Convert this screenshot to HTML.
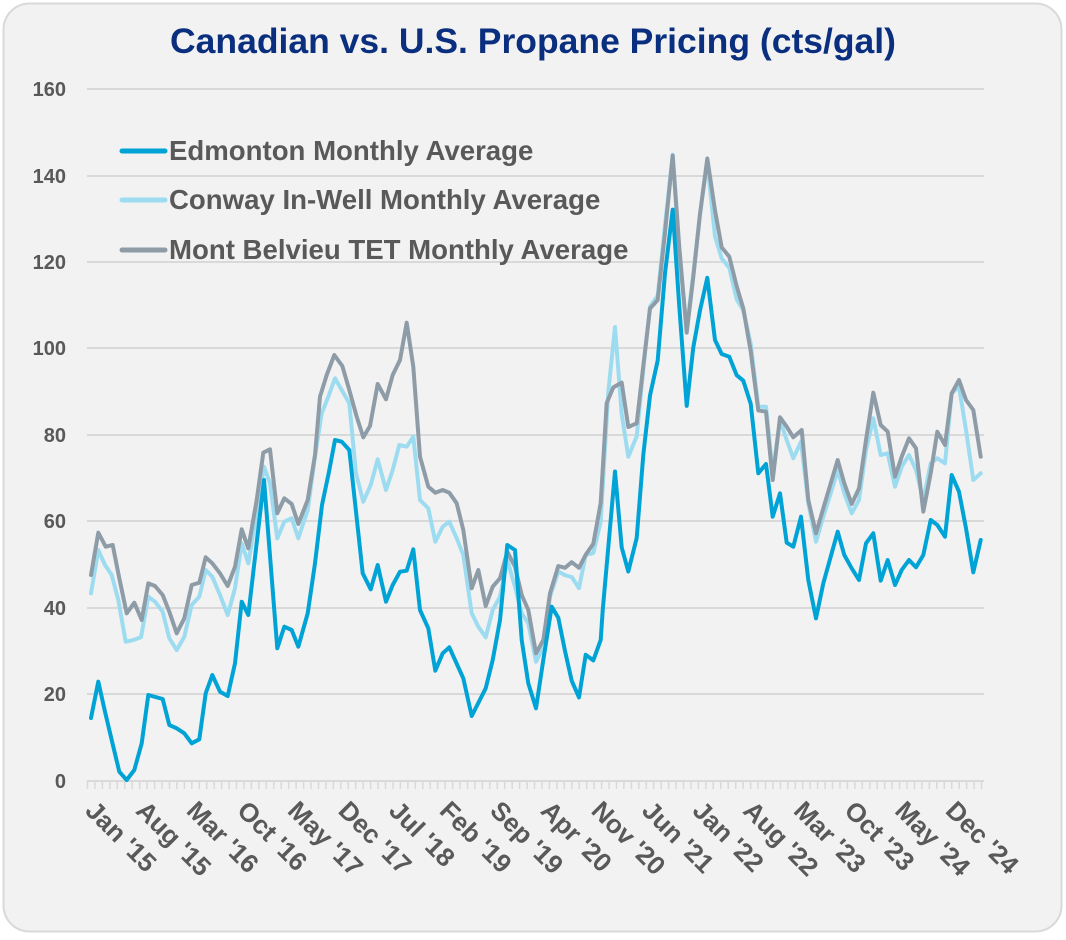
<!DOCTYPE html>
<html><head><meta charset="utf-8"><style>
html,body{margin:0;padding:0;background:#fff;}
body{width:1066px;height:935px;overflow:hidden;}
</style></head><body>
<svg width="1066" height="935" viewBox="0 0 1066 935" xmlns="http://www.w3.org/2000/svg" font-family="'Liberation Sans', sans-serif">
<rect x="3.5" y="3.5" width="1058" height="928" rx="26" fill="#f2f2f2" stroke="#d9d9d9" stroke-width="2"/>
<text x="533" y="53" text-anchor="middle" font-size="35.5" font-weight="bold" fill="#0b2f7f">Canadian vs. U.S. Propane Pricing (cts/gal)</text>
<g stroke="#d9d9d9" stroke-width="2">
<line x1="87" y1="89" x2="984" y2="89"/><line x1="87" y1="176" x2="984" y2="176"/><line x1="87" y1="262" x2="984" y2="262"/>
<line x1="87" y1="348" x2="984" y2="348"/><line x1="87" y1="435" x2="984" y2="435"/><line x1="87" y1="521" x2="984" y2="521"/>
<line x1="87" y1="608" x2="984" y2="608"/><line x1="87" y1="694" x2="984" y2="694"/><line x1="87" y1="781" x2="984" y2="781"/>
</g>
<path d="M87.5 781v8 M95 781v8 M102.4 781v8 M109.9 781v8 M117.3 781v8 M124.8 781v8 M132.2 781v8 M139.7 781v8 M147.1 781v8 M154.6 781v8 M162 781v8 M169.5 781v8 M176.9 781v8 M184.4 781v8 M191.8 781v8 M199.3 781v8 M206.7 781v8 M214.2 781v8 M221.6 781v8 M229.1 781v8 M236.5 781v8 M244 781v8 M251.4 781v8 M258.9 781v8 M266.3 781v8 M273.8 781v8 M281.2 781v8 M288.7 781v8 M296.1 781v8 M303.6 781v8 M311 781v8 M318.5 781v8 M325.9 781v8 M333.4 781v8 M340.8 781v8 M348.3 781v8 M355.7 781v8 M363.2 781v8 M370.6 781v8 M378.1 781v8 M385.5 781v8 M393 781v8 M400.4 781v8 M407.9 781v8 M415.3 781v8 M422.8 781v8 M430.2 781v8 M437.7 781v8 M445.1 781v8 M452.6 781v8 M460 781v8 M467.5 781v8 M474.9 781v8 M482.4 781v8 M489.8 781v8 M497.3 781v8 M504.7 781v8 M512.2 781v8 M519.6 781v8 M527.1 781v8 M534.5 781v8 M542 781v8 M549.4 781v8 M556.9 781v8 M564.3 781v8 M571.8 781v8 M579.2 781v8 M586.7 781v8 M594.1 781v8 M601.6 781v8 M609 781v8 M616.5 781v8 M623.9 781v8 M631.4 781v8 M638.8 781v8 M646.3 781v8 M653.7 781v8 M661.2 781v8 M668.6 781v8 M676.1 781v8 M683.5 781v8 M691 781v8 M698.4 781v8 M705.9 781v8 M713.3 781v8 M720.8 781v8 M728.2 781v8 M735.7 781v8 M743.1 781v8 M750.6 781v8 M758 781v8 M765.5 781v8 M772.9 781v8 M780.4 781v8 M787.8 781v8 M795.3 781v8 M802.7 781v8 M810.2 781v8 M817.6 781v8 M825.1 781v8 M832.5 781v8 M840 781v8 M847.4 781v8 M854.9 781v8 M862.3 781v8 M869.8 781v8 M877.2 781v8 M884.7 781v8 M892.1 781v8 M899.6 781v8 M907 781v8 M914.5 781v8 M921.9 781v8 M929.4 781v8 M936.8 781v8 M944.3 781v8 M951.7 781v8 M959.2 781v8 M966.6 781v8 M974.1 781v8 M981.5 781v8" stroke="#d9d9d9" stroke-width="1.5" fill="none"/>
<g font-size="20" fill="#595959" text-anchor="end" font-weight="bold">
<text x="66" y="96">160</text><text x="66" y="183">140</text><text x="66" y="269">120</text><text x="66" y="355">100</text>
<text x="66" y="442">80</text><text x="66" y="528">60</text><text x="66" y="615">40</text><text x="66" y="701">20</text><text x="66" y="788">0</text>
</g>
<g fill="none" stroke-width="4" stroke-linejoin="round" stroke-linecap="round">
<polyline stroke="#9ddcf0" points="91,593.3 98.3,550 105,565 111.7,575 118.3,600 125.7,641.7 133.3,640 141,637.3 148.3,596.7 155,601.7 162.7,611.7 169.3,638.3 176.7,650 184.3,636.7 191.7,605 199.3,596.7 205.7,570 212.3,576.7 220,595 227.7,615 235,588.3 241.7,543.3 248.3,563.3 256.7,513.3 264,466.7 270,483.3 277.3,538.3 284.3,521.7 291.7,518.3 298.3,538.3 307.7,510 315,456.7 321.7,413.3 328.3,396.7 335,378.3 341.7,390 349.3,403.3 356,473.3 363.3,501.7 370.7,485 377.7,459.3 386,490 392.7,470 399.3,445 406.7,446.7 413.3,436.7 420,500 428.3,508.3 435.3,541.7 442.7,526.7 449.3,521.7 456.7,538.3 463.3,555 471.7,613.3 478.3,626.7 485.7,637.3 492.7,610 500,596.7 507.3,560 515,586.7 521.7,613.3 528.3,623.3 536,661.7 543.3,646.7 550,596.7 558.3,571.5 565,575.2 571.7,577 579,588.1 585.7,554.8 593.3,553 600.7,521.5 608.3,391.9 615,327 621.7,414 628.3,456.7 636.7,436.3 643.3,369.6 650,306.7 657.7,295.6 665,225.2 672.7,154.8 679.3,254.8 686.7,328.9 693.3,273.3 700,214 707.3,162.2 715,236.3 721.7,258.5 729.3,267.8 736.7,299.3 743.3,310.4 750.7,343.7 758.3,406.7 766,406.7 772.7,473.3 780,420 786.7,440 793.3,458.3 801,441.7 808.3,503.3 816,541.7 823.3,516.7 830.7,493.3 837.7,470 844.3,493.3 851.7,513.3 859,500 866,450 873.3,418.3 880.7,455 887.7,453.3 895,486.7 901.7,466.7 909,455 916,470 923.3,500 930.7,463.3 937.3,458.3 945,463.3 951.7,393.3 959,386.7 966,430 973.3,480 980.7,473.3"/>
<polyline stroke="#8e9ca8" points="91,575 98.3,532.7 105.7,546.7 112.7,545 119.3,578.3 126.7,613.3 134.3,602.7 141.7,620 148.3,583.3 155,586 162.7,595 169.3,611.7 176.7,633.3 184.3,618.3 191.7,585 199.3,582.7 205.7,557.3 212.3,563.3 220,573.3 227.7,586 235,566.7 241.7,529.3 248.3,548.3 256.7,500 263.3,452.7 270,449.3 277.3,513.3 284.3,498.3 291.7,504 298.3,524 307.7,500 315,455 320,396.7 326.7,375 334.3,355 342.3,366 349.3,390 356.7,416.7 363.3,437.3 370,426 377.7,384 386,399.3 392.7,375 400,360 406.7,322.7 413.3,366.7 420,456.7 428.3,486.7 435.3,492.7 442.7,490 449.3,492.7 456.7,503.3 463.3,530 471.7,588.3 478.3,570 485.7,606 492.7,586.7 500,578.3 507.3,551.7 515,566.7 521.7,595 528.3,610 536,653.3 543.3,640 550,593.3 558.3,566 565,567.8 571.7,562.2 579,567.8 585.7,554.8 593.3,543.7 600.7,503 606.7,403 613.3,387.4 621.7,382.6 628.3,427 636.7,423.3 643.3,365.9 650,308.5 657.7,300 665,232.6 672.7,155.6 679.3,247.4 686.7,332.6 693.3,277 700,214 707.3,158.5 715,210.4 721.7,247.4 729.3,256.7 736.7,286.3 743.3,308.5 750.7,351.1 758.3,410.4 766,411.7 772.7,480 780,417.3 786.7,426.7 793.3,437.3 801.7,430 808.3,500 816,533.3 823.3,508.3 830.7,483.3 837.7,460 844.3,483.3 851.7,504 859,488.3 866,440 873.3,392.7 880.7,425 887.7,431.7 895,476.7 901.7,456.7 909,438.3 916,448.3 923.3,511.7 930.7,473.3 937.3,431.7 945,445 951.7,393.3 959,380 966,400 973.3,410 980.7,456.7"/>
<polyline stroke="#00a3d6" points="91,718 98.3,681.7 105,711.7 111.7,740 119.3,771.7 126.7,780 134.3,770 141.7,743.3 148.3,695 162.7,699 169.3,725 176.7,728.3 184.3,733.3 191.7,743.3 199.3,739.3 205.7,693.3 212.3,675 220,691.7 227.7,696 235,663.3 241.7,601.7 248.3,615 264,480 277.3,648.3 284.3,626.7 291.7,630 298.3,646.7 307.7,613.3 315,563.3 322,505 329,471.7 335,440 341.7,441.7 349.3,450 362.7,573.3 370.7,589.3 377.7,565 386,601.7 392.7,585 400,571.7 406.7,570.7 413.3,549.3 420,610 428.3,628.3 435.3,670.7 442.7,653.3 449.3,647.3 463.3,678.3 471.7,716 485.7,688.3 492.7,660 500,620 507.3,545 515,550 521.7,640 528.3,683.3 536,708.3 543.3,660 551.7,606.7 558.3,617.8 565,651 571.7,680.7 579,697.4 585.7,654.8 593.3,660.4 600.7,640 602.7,610.4 615,471.5 621.7,547.4 628.3,571.5 636.7,538 643.3,454.8 650,395.6 657.7,360.4 665,273.3 672.7,209.6 679.3,306.7 686.7,405.9 693.3,347.4 700,310.4 707.3,277.8 715,340 721.7,354 729.3,356.7 736.7,375.2 743.3,380.7 750.7,403.7 758.3,473.3 766,464 772.7,516.7 780,493.3 786.7,542.7 793.3,546.7 801,516.7 808.3,580 816,618.3 823.3,583.3 830.7,556.7 837.7,531.7 844.3,555 851.7,568.3 859,580 866,543.3 873.3,533.3 880.7,580.7 887.7,560 895,585 901.7,570 909,560 916,567.3 923.3,555 930.7,520 937.3,525 945,536.7 951.7,475 959,491.7 966,528.3 973.3,572.3 980.7,540"/>
</g>
<g stroke-width="5" stroke-linecap="round">
<line x1="122" y1="151" x2="165" y2="151" stroke="#00a3d6"/>
<line x1="122" y1="200" x2="165" y2="200" stroke="#9ddcf0"/>
<line x1="122" y1="250" x2="165" y2="250" stroke="#8e9ca8"/>
</g>
<g font-size="27.6" fill="#595959" font-weight="bold">
<text x="169" y="160">Edmonton Monthly Average</text>
<text x="169" y="209">Conway In-Well Monthly Average</text>
<text x="169" y="259">Mont Belvieu TET Monthly Average</text>
</g>
<g font-size="26" fill="#595959" font-weight="bold">
<text transform="translate(84,812) rotate(45)">Jan '15</text>
<text transform="translate(134.6,812) rotate(45)">Aug '15</text>
<text transform="translate(185.2,812) rotate(45)">Mar '16</text>
<text transform="translate(235.8,812) rotate(45)">Oct '16</text>
<text transform="translate(286.4,812) rotate(45)">May '17</text>
<text transform="translate(337,812) rotate(45)">Dec '17</text>
<text transform="translate(387.6,812) rotate(45)">Jul '18</text>
<text transform="translate(438.2,812) rotate(45)">Feb '19</text>
<text transform="translate(488.8,812) rotate(45)">Sep '19</text>
<text transform="translate(539.4,812) rotate(45)">Apr '20</text>
<text transform="translate(590,812) rotate(45)">Nov '20</text>
<text transform="translate(640.6,812) rotate(45)">Jun '21</text>
<text transform="translate(691.2,812) rotate(45)">Jan '22</text>
<text transform="translate(741.8,812) rotate(45)">Aug '22</text>
<text transform="translate(792.4,812) rotate(45)">Mar '23</text>
<text transform="translate(843,812) rotate(45)">Oct '23</text>
<text transform="translate(893.6,812) rotate(45)">May '24</text>
<text transform="translate(944.2,812) rotate(45)">Dec '24</text>
</g>
</svg>
</body></html>
